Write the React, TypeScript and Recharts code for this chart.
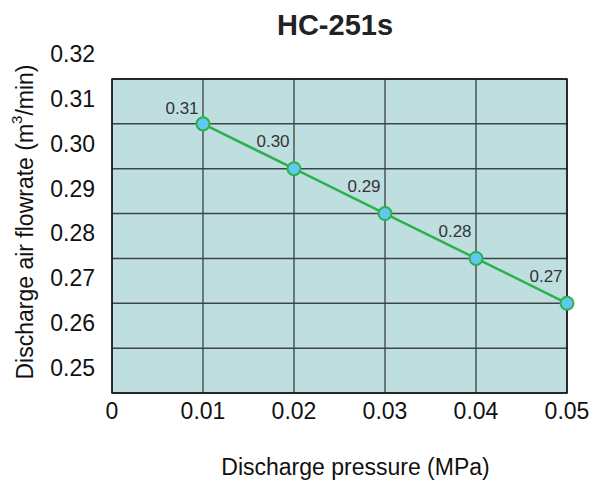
import React from 'react';
import { LineChart, Line, XAxis, YAxis, CartesianGrid, LabelList, ReferenceArea } from 'recharts';

const pressure = [0.01, 0.02, 0.03, 0.04, 0.05];
const flowrate = [0.31, 0.30, 0.29, 0.28, 0.27];
const xTicks = [0, 0.01, 0.02, 0.03, 0.04, 0.05];
const yTicks = [0.25, 0.26, 0.27, 0.28, 0.29, 0.30, 0.31, 0.32];

const data = pressure.map((p, i) => ({ p, q: flowrate[i] }));

const W = 590;
const H = 481;
const TOP = 79;
const FONT = 'Liberation Sans, Arial, sans-serif';

const fmtX = (v: number) => (v === 0 ? '0' : v.toFixed(2));

// y labels sit half a band above their grid line
const YTick = (props: any) => {
  const { x, y, payload } = props;
  return (
    <text x={x} y={y - 25} textAnchor="end" dominantBaseline="central" fontSize={23} fill="#111" fontFamily={FONT}>
      {payload.value.toFixed(2)}
    </text>
  );
};

const PointLabel = (props: any) => {
  const { x, y, value } = props;
  const ly = Math.max(y - 27, TOP + 29);
  return (
    <text x={x - 21} y={ly} textAnchor="middle" dominantBaseline="central" fontSize={17} fill="#333" fontFamily={FONT}>
      {value.toFixed(2)}
    </text>
  );
};

const YTitle = (props: any) => {
  const { viewBox } = props;
  const cx = 25;
  const cy = viewBox.y + viewBox.height / 2 - 14;
  return (
    <text x={cx} y={cy} transform={`rotate(-90 ${cx} ${cy})`} textAnchor="middle" dominantBaseline="central" fontSize={23} fill="#111" fontFamily={FONT}>
      Discharge air flowrate (m<tspan dy={-9} fontSize={15}>3</tspan><tspan dy={9}>/min)</tspan>
    </text>
  );
};

const XTitle = (props: any) => {
  const { viewBox } = props;
  const cx = viewBox.x + viewBox.width / 2 + 16;
  return (
    <text x={cx} y={467} textAnchor="middle" dominantBaseline="central" fontSize={23} fill="#111" fontFamily={FONT}>
      Discharge pressure (MPa)
    </text>
  );
};

export default function App() {
  return (
    <div style={{ position: 'absolute', left: 0, top: 0, width: W, height: H, background: '#fff', fontFamily: FONT }}>
      <div style={{ position: 'absolute', left: 0, top: 8, width: W, paddingLeft: 80, boxSizing: 'border-box', textAlign: 'center', fontSize: 29, fontWeight: 'bold', color: '#222', lineHeight: '34px' }}>
        HC-251s
      </div>
      <LineChart width={W} height={H} data={data} margin={{ top: TOP, right: 23, left: 0, bottom: 0 }}>
        <CartesianGrid horizontal={false} vertical={true} stroke="#111" strokeWidth={1} fill="#bfdedf" fillOpacity={1} />
        <CartesianGrid horizontal={true} vertical={false} stroke="#3c4546" strokeWidth={1.5} />
        <XAxis
          dataKey="p"
          type="number"
          domain={[0, 0.05]}
          ticks={xTicks}
          tickFormatter={fmtX}
          tickLine={false}
          axisLine={false}
          tickSize={0}
          tickMargin={10}
          height={88}
          interval={0}
          tick={{ fontSize: 23, fill: '#111', fontFamily: FONT }}
          label={{ content: XTitle }}
        />
        <YAxis
          type="number"
          domain={[0.25, 0.32]}
          ticks={yTicks}
          tick={YTick}
          tickLine={false}
          axisLine={false}
          tickSize={0}
          tickMargin={17}
          width={112}
          interval={0}
          label={{ content: YTitle }}
        />
        <ReferenceArea x1={0} x2={0.05} y1={0.25} y2={0.32} fill="none" fillOpacity={0} stroke="#111" strokeWidth={1.5} ifOverflow="visible" />
        <Line
          dataKey="q"
          stroke="#2bb24c"
          strokeWidth={2.5}
          isAnimationActive={false}
          dot={{ r: 6.5, fill: '#62c8f0', stroke: '#2bb24c', strokeWidth: 2 }}
          activeDot={false}
        >
          <LabelList dataKey="q" content={PointLabel} />
        </Line>
      </LineChart>
    </div>
  );
}
